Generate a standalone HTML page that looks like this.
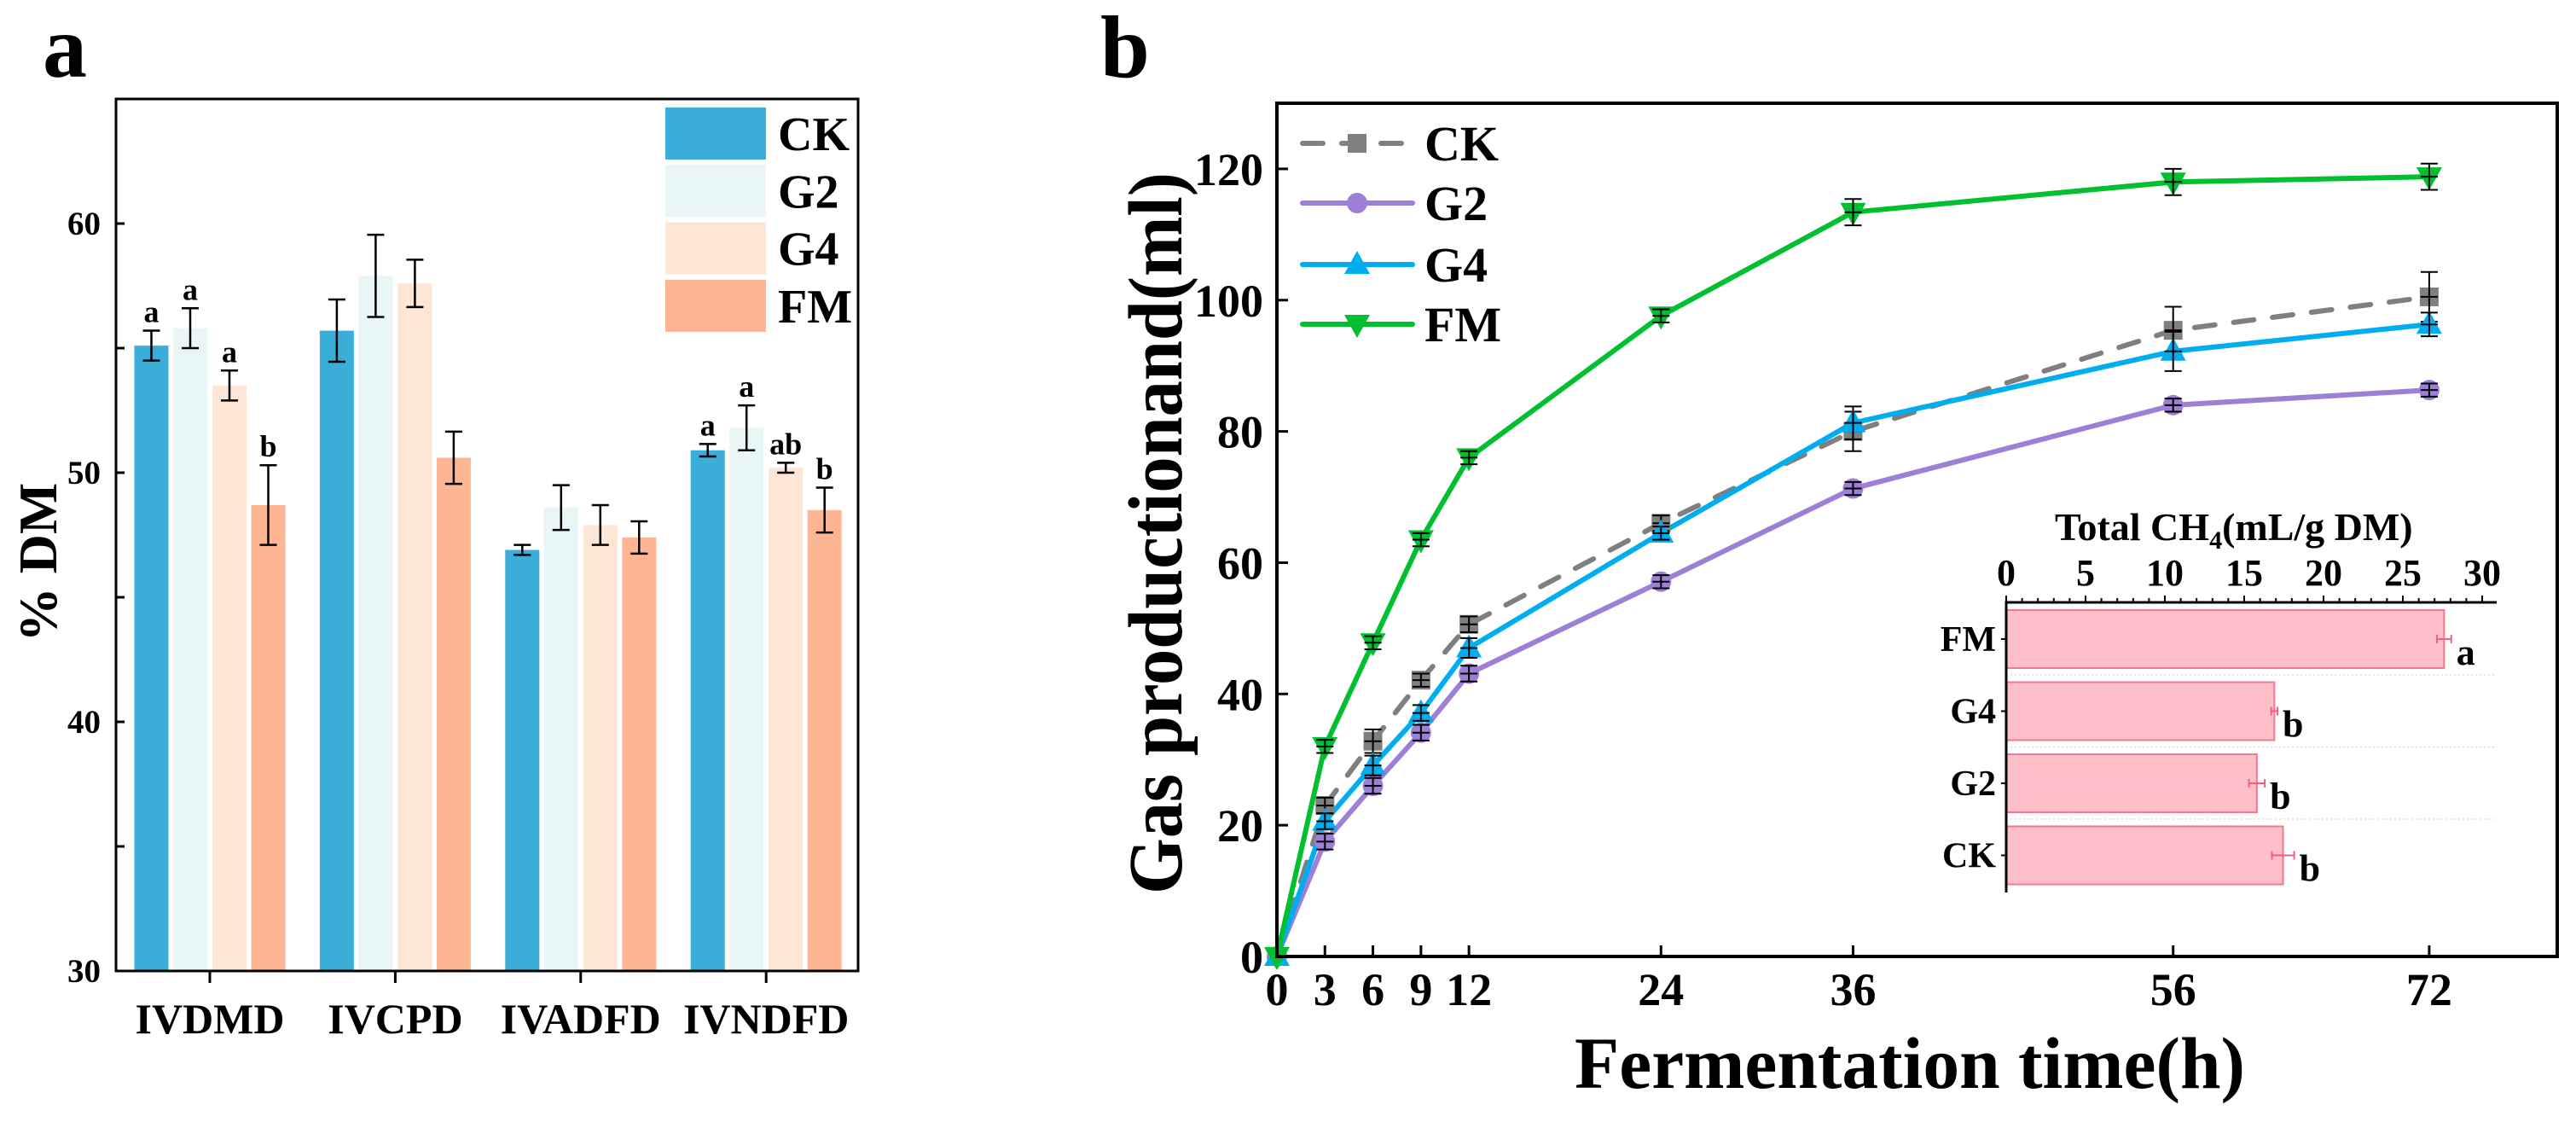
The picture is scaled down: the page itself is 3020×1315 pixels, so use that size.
<!DOCTYPE html>
<html><head><meta charset="utf-8"><style>
html,body{margin:0;padding:0;background:#fff}
svg{display:block}
text{font-family:"Liberation Serif",serif;font-weight:bold;fill:#000}
</style></head><body>
<svg id="chart" width="3020" height="1315" viewBox="0 0 3020 1315" xmlns="http://www.w3.org/2000/svg">
<g id="pa"></g>
<g id="pb"></g>
<g id="pc"></g>
</svg>
<script>
// ---------- Panel a data ----------
const catsA = ["IVDMD","IVCPD","IVADFD","IVNDFD"];
const groupsA = ["CK","G2","G4","FM"];
const valCK = [55.1, 55.7, 46.9, 50.9];
const valG2 = [55.8, 57.9, 48.6, 51.8];
const valG4 = [53.5, 57.6, 47.9, 50.2];
const valFM = [48.7, 50.6, 47.4, 48.5];
const errCK = [0.6, 1.25, 0.2, 0.25];
const errG2 = [0.8, 1.65, 0.9, 0.9];
const errG4 = [0.6, 0.95, 0.8, 0.2];
const errFM = [1.6, 1.05, 0.65, 0.9];
const lettersA = [["a","a","a","b"],["","","",""],["","","",""],["a","a","ab","b"]];
const yTicksA = [30,40,50,60];
// ---------- Panel b data ----------
const hours = [0,3,6,9,12,24,36,56,72];
const xTickLabelsB = ["0","3","6","9","12","24","36","56","72"];
const yTicksB = [0,20,40,60,80,100,120];
const gasCK = [0,23,32.8,42.1,50.6,66,80,95.4,100.5];
const gasG2 = [0,17.5,26,34.1,43.1,57.1,71.3,84,86.3];
const gasG4 = [0,20.6,29.1,37.1,47,64.5,81.3,92.2,96.3];
const gasFM = [0,32,47.8,63.5,76,97.6,113.4,118,118.8];
const eCK = [0,1.2,1.8,1,1.2,1.2,3,3.6,3.8];
const eG2 = [0,1.2,1.2,1.2,1.2,1,1,1,1];
const eG4 = [0,1.2,1.5,1.2,1.5,1,2.5,3,1.8];
const eFM = [0,1,1,1,1,1,2,2,2];
// ---------- Inset data ----------
const ch4Cats = ["FM","G4","G2","CK"];
const ch4Vals = [27.6, 16.9, 15.8, 17.45];
const ch4Errs = [0.45, 0.2, 0.5, 0.7];
const ch4Letters = ["a","b","b","b"];
const ch4Ticks = [0,5,10,15,20,25,30];

const NS="http://www.w3.org/2000/svg";
function mk(parent, tag, attrs, txt){
  const e=document.createElementNS(NS,tag);
  for(const k in attrs) e.setAttribute(k, attrs[k]);
  if(txt!==undefined) e.textContent=txt;
  parent.appendChild(e); return e;
}
// ================= PANEL A =================
const pa=document.getElementById('pa');
const aL=136,aR=1006,aT=116,aB=1138;
const yA=v=>aB-(v-30)*(aB-aT)/35;
const gx=i=>246+i*217.4;
const colA=["#3aaed8","#e8f6f5","#fee6d6","#fdb593"];
const valsA=[valCK,valG2,valG4,valFM], errsA=[errCK,errG2,errG4,errFM];
const offs=[-68.5,-23,23,68.5];
let t;
t=mk(pa,'text',{x:50,y:90,'font-size':104},'a');


for(let i=0;i<catsA.length;i++){
  for(let g=0;g<4;g++){
    const cx=gx(i)+offs[g], v=valsA[g][i], e=errsA[g][i];
    const r=mk(pa,'rect',{x:cx-20,y:yA(v),width:40,height:aB-yA(v),fill:colA[g]});
    
    
    const eb=mk(pa,'path',{d:`M${cx},${yA(v+e)}V${yA(v-e)}M${cx-10},${yA(v+e)}H${cx+10}M${cx-10},${yA(v-e)}H${cx+10}`,stroke:'#000','stroke-width':2.5,fill:'none'});
    
    
    const L=lettersA[i][g];
    if(L){
      const lt=mk(pa,'text',{x:cx,y:yA(v+e)-10,'font-size':36,'text-anchor':'middle'},L);
      
      
    }
  }
  const tk=mk(pa,'line',{x1:gx(i),x2:gx(i),y1:aB,y2:aB+14,stroke:'#000','stroke-width':3});
  
  
  const cl=mk(pa,'text',{x:gx(i),y:1211,'font-size':50,'text-anchor':'middle'},catsA[i]);
  
  
}
for(let v=35;v<65;v+=5){
  const tk=mk(pa,'line',{x1:aL,x2:aL+10,y1:yA(v),y2:yA(v),stroke:'#000','stroke-width':3});
  
  
}
for(const v of yTicksA){
  const tl=mk(pa,'text',{x:118,y:yA(v)+13,'font-size':39,'text-anchor':'end'},String(v));
  
  
}
let fr=mk(pa,'rect',{x:aL,y:aT,width:aR-aL,height:aB-aT,fill:'none',stroke:'#000','stroke-width':3});


t=mk(pa,'text',{x:0,y:0,'font-size':64,'text-anchor':'middle',transform:'translate(66,659) rotate(-90)'},'% DM');


for(let g=0;g<4;g++){
  const y0=126+g*67.3;
  const lr=mk(pa,'rect',{x:780,y:y0,width:118,height:61,fill:colA[g]});
  
  
  const lt=mk(pa,'text',{x:912,y:y0+50,'font-size':56},groupsA[g]);
  
  
}
// ================= PANEL B =================
const pb=document.getElementById('pb');
const bL=1497,bR=2998,bT=121,bB=1121;
const xB=h=>bL+h*(bR-bL)/80;
const yB=v=>bB-v*(bB-bT)/130;
t=mk(pb,'text',{x:1290,y:90,'font-size':104},'b');


hours.forEach((h,i)=>{
  if(h>0){const tk=mk(pb,'line',{x1:xB(h),x2:xB(h),y1:bB,y2:bB-13,stroke:'#000','stroke-width':3});
  
  }
  const tl=mk(pb,'text',{x:xB(h),y:1178,'font-size':54,'text-anchor':'middle'},xTickLabelsB[i]);
  
  
});
yTicksB.forEach(v=>{
  if(v>0){const tk=mk(pb,'line',{x1:bL,x2:bL+13,y1:yB(v),y2:yB(v),stroke:'#000','stroke-width':3});
  
  }
  const tl=mk(pb,'text',{x:1481,y:yB(v)+19,'font-size':54,'text-anchor':'end'},String(v));
  
  
});
t=mk(pb,'text',{x:2239,y:1275,'font-size':86,'text-anchor':'middle',textLength:786,lengthAdjust:'spacingAndGlyphs'},'Fermentation time(h)');


t=mk(pb,'text',{x:0,y:0,'font-size':90,'text-anchor':'middle',textLength:846,lengthAdjust:'spacingAndGlyphs',transform:'translate(1385,625) rotate(-90)'},'Gas productionand(ml)');


const series=[
 {n:'ck',d:gasCK,e:eCK,c:'#7f7f7f',m:'sq',dash:'24 22'},
 {n:'g2',d:gasG2,e:eG2,c:'#9e7fd6',m:'ci'},
 {n:'g4',d:gasG4,e:eG4,c:'#00aeef',m:'tu'},
 {n:'fm',d:gasFM,e:eFM,c:'#00c030',m:'td'}];
function marker(parent,type,x,y,c){
  let el;
  if(type==='sq') el=mk(parent,'rect',{x:x-11,y:y-11,width:22,height:22,fill:c});
  else if(type==='ci') el=mk(parent,'circle',{cx:x,cy:y,r:12,fill:c});
  else if(type==='tu') el=mk(parent,'path',{d:`M${x},${y-16}L${x+15},${y+11}L${x-15},${y+11}Z`,fill:c});
  else el=mk(parent,'path',{d:`M${x},${y+16}L${x+15},${y-11}L${x-15},${y-11}Z`,fill:c});
  return el;
}
series.forEach(s=>{
  const pts=hours.map((h,i)=>xB(h)+','+yB(s.d[i])).join(' ');
  const pl=mk(pb,'polyline',{points:pts,fill:'none',stroke:s.c,'stroke-width':6,'stroke-linejoin':'round','stroke-linecap':'round'});
  if(s.dash) pl.setAttribute('stroke-dasharray',s.dash);
  
  
});
series.forEach(s=>{
  hours.forEach((h,i)=>{
    const x=xB(h),y=yB(s.d[i]);
    const mm=marker(pb,s.m,x,y,s.c);
    
    
    if(s.e[i]>0){
      const a=yB(s.d[i]+s.e[i]),b=yB(s.d[i]-s.e[i]);
      const eb=mk(pb,'path',{d:`M${x},${a}V${b}M${x-10},${a}H${x+10}M${x-10},${b}H${x+10}M${x-10},${y}H${x+10}`,stroke:'#000','stroke-width':2,fill:'none'});
      
      
    }
  });
});
fr=mk(pb,'rect',{x:bL,y:bT,width:bR-bL,height:bB-bT,fill:'none',stroke:'#000','stroke-width':4});


const legY=[168,238,310,380], legNames=["CK","G2","G4","FM"];
series.forEach((s,i)=>{
  const ll=mk(pb,'line',{x1:1527,x2:1656,y1:legY[i],y2:legY[i],stroke:s.c,'stroke-width':6,'stroke-linecap':'round'});
  if(s.dash) ll.setAttribute('stroke-dasharray','24 22');
  
  
  const lm=marker(pb,s.m,1591,legY[i],s.c);
  
  
  const lt=mk(pb,'text',{x:1670,y:legY[i]+20,'font-size':58},legNames[i]);
  
  
});
// ================= INSET =================
const pc=document.getElementById('pc');
const iL=2352,iT=706,iB=1046;
const xI=v=>iL+v*(2910-2352)/30;
const rowY=i=>715+i*84.5;
ch4Cats.forEach((c,i)=>{
  const y0=rowY(i), v=ch4Vals[i], e=ch4Errs[i];
  const r=mk(pc,'rect',{x:iL,y:y0,width:xI(v)-iL,height:68,fill:'#ffbfc9',stroke:'#f07890','stroke-width':2});
  
  
  const cy=y0+34;
  const eb=mk(pc,'path',{d:`M${xI(v-e)},${cy}H${xI(v+e)}M${xI(v-e)},${cy-5}V${cy+5}M${xI(v+e)},${cy-5}V${cy+5}`,stroke:'#f06080','stroke-width':2,fill:'none'});
  
  
  const lt=mk(pc,'text',{x:xI(v+e)+6,y:cy+30,'font-size':44},ch4Letters[i]);
  
  
  const cl=mk(pc,'text',{x:2340,y:cy+14,'font-size':42,'text-anchor':'end'},c);
  
  
  const tk=mk(pc,'line',{x1:iL-6,x2:iL,y1:cy,y2:cy,stroke:'#000','stroke-width':2});
  
  
  if(i<3){
    const gl=mk(pc,'line',{x1:iL,x2:2927,y1:y0+76,y2:y0+76,stroke:'#ccc','stroke-width':1,'stroke-dasharray':'2 3'});
    
    
  }
});
for(let v=0;v<=30.5;v+=1){
  const big=v%5===0;
  const tk=mk(pc,'line',{x1:xI(v),x2:xI(v),y1:iT,y2:iT-(big?8:5),stroke:'#000','stroke-width':2});
  
  
}
ch4Ticks.forEach(v=>{
  const tl=mk(pc,'text',{x:xI(v),y:686,'font-size':44,'text-anchor':'middle'},String(v));
  
  
});
let ax=mk(pc,'path',{d:`M${iL},${iB}V${iT}H2927`,stroke:'#000','stroke-width':3,fill:'none'});


t=mk(pc,'text',{x:2409,y:633,'font-size':46},'Total CH');


mk(t,'tspan',{'font-size':30,dy:10},'4');
mk(t,'tspan',{dy:-10},'(mL/g DM)');
</script>
</body></html>
